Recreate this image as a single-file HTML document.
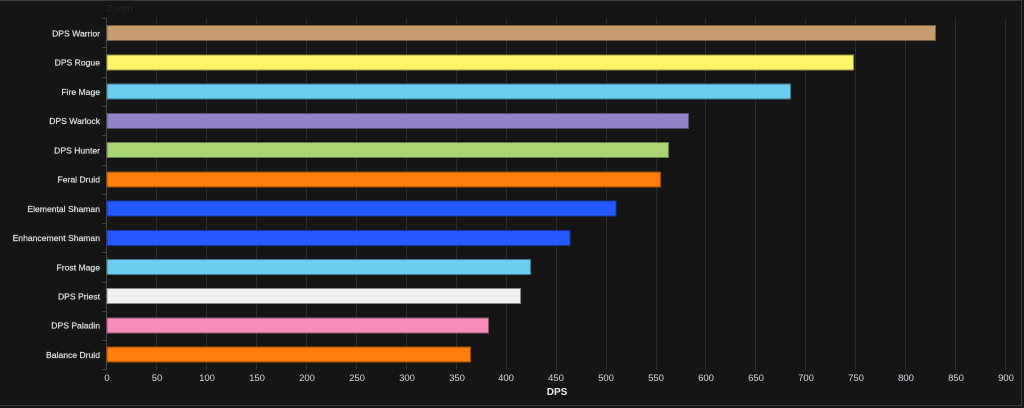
<!DOCTYPE html>
<html><head><meta charset="utf-8"><style>
html,body{margin:0;padding:0;background:#151515;}
svg{display:block;font-family:"Liberation Sans",sans-serif;}
</style></head><body>
<svg width="1024" height="408" viewBox="0 0 1024 408" xmlns="http://www.w3.org/2000/svg">
<rect width="1024" height="408" fill="#151515"/>
<line x1="0" y1="0.5" x2="1022" y2="0.5" stroke="#3a3a3a"/>
<line x1="1021.5" y1="0" x2="1021.5" y2="406" stroke="#3a3a3a"/>
<line x1="0" y1="405.5" x2="1022" y2="405.5" stroke="#3a3a3a"/>
<text x="107" y="12" font-size="10" fill="#252525">Zoom</text>
<g stroke="#2c2c2c" stroke-width="1">
<line x1="156.5" y1="18" x2="156.5" y2="370"/><line x1="206.5" y1="18" x2="206.5" y2="370"/>
<line x1="256.5" y1="18" x2="256.5" y2="370"/><line x1="306.5" y1="18" x2="306.5" y2="370"/>
<line x1="356.5" y1="18" x2="356.5" y2="370"/><line x1="406.5" y1="18" x2="406.5" y2="370"/>
<line x1="456.5" y1="18" x2="456.5" y2="370"/><line x1="506.5" y1="18" x2="506.5" y2="370"/>
<line x1="556.5" y1="18" x2="556.5" y2="370"/><line x1="606.5" y1="18" x2="606.5" y2="370"/>
<line x1="656.5" y1="18" x2="656.5" y2="370"/><line x1="705.5" y1="18" x2="705.5" y2="370"/>
<line x1="755.5" y1="18" x2="755.5" y2="370"/><line x1="805.5" y1="18" x2="805.5" y2="370"/>
<line x1="855.5" y1="18" x2="855.5" y2="370"/><line x1="905.5" y1="18" x2="905.5" y2="370"/>
<line x1="955.5" y1="18" x2="955.5" y2="370"/><line x1="1005.5" y1="18" x2="1005.5" y2="370"/>
</g>
<line x1="106.5" y1="18" x2="106.5" y2="370" stroke="#444"/>
<g stroke="#444">
<line x1="102" y1="18.5" x2="106" y2="18.5"/><line x1="102" y1="47.5" x2="106" y2="47.5"/><line x1="102" y1="77.5" x2="106" y2="77.5"/>
<line x1="102" y1="106.5" x2="106" y2="106.5"/><line x1="102" y1="135.5" x2="106" y2="135.5"/><line x1="102" y1="165.5" x2="106" y2="165.5"/>
<line x1="102" y1="194.5" x2="106" y2="194.5"/><line x1="102" y1="223.5" x2="106" y2="223.5"/><line x1="102" y1="252.5" x2="106" y2="252.5"/>
<line x1="102" y1="282.5" x2="106" y2="282.5"/><line x1="102" y1="311.5" x2="106" y2="311.5"/><line x1="102" y1="340.5" x2="106" y2="340.5"/>
<line x1="102" y1="369.5" x2="106" y2="369.5"/>
</g>
<g stroke-width="1">
<rect x="107" y="25.5" width="828.5" height="15" fill="#c69b6d" stroke="#7a5f42"/>
<rect x="107" y="55" width="746.5" height="15" fill="#fff569" stroke="#9a9440"/>
<rect x="107" y="84" width="683.5" height="15" fill="#69ccf0" stroke="#3f7b91"/>
<rect x="107" y="113.5" width="581.5" height="15" fill="#9482c9" stroke="#5a4f7a"/>
<rect x="107" y="142.5" width="561.5" height="15" fill="#abd473" stroke="#678046"/>
<rect x="107" y="172" width="553.5" height="15" fill="#ff7d0a" stroke="#9a4c06"/>
<rect x="107" y="201" width="509" height="15" fill="#2459ff" stroke="#16369a"/>
<rect x="107" y="230.5" width="463" height="15" fill="#2459ff" stroke="#16369a"/>
<rect x="107" y="259.5" width="423.5" height="15" fill="#69ccf0" stroke="#3f7b91"/>
<rect x="107" y="288.5" width="413.5" height="15" fill="#f0f0f0" stroke="#8a8a8a"/>
<rect x="107" y="318" width="381.5" height="15" fill="#f58cba" stroke="#945470"/>
<rect x="107" y="347" width="363.5" height="15" fill="#ff7d0a" stroke="#9a4c06"/>
</g>
<g font-size="8.6" fill="#e2e2e2" text-anchor="end" stroke="#e2e2e2" stroke-width="0.2">
<text x="100" y="36.5">DPS Warrior</text>
<text x="100" y="65.5">DPS Rogue</text>
<text x="100" y="95">Fire Mage</text>
<text x="100" y="124">DPS Warlock</text>
<text x="100" y="153.5">DPS Hunter</text>
<text x="100" y="182.5">Feral Druid</text>
<text x="100" y="212">Elemental Shaman</text>
<text x="100" y="241">Enhancement Shaman</text>
<text x="100" y="270.5">Frost Mage</text>
<text x="100" y="299.5">DPS Priest</text>
<text x="100" y="328.5">DPS Paladin</text>
<text x="100" y="358">Balance Druid</text>
</g>
<g font-size="9.5" fill="#d6dde6" text-anchor="middle">
<text x="107" y="381">0</text><text x="157" y="381">50</text><text x="207" y="381">100</text>
<text x="257" y="381">150</text><text x="307" y="381">200</text><text x="357" y="381">250</text>
<text x="407" y="381">300</text><text x="457" y="381">350</text><text x="506" y="381">400</text>
<text x="556" y="381">450</text><text x="606" y="381">500</text><text x="656" y="381">550</text>
<text x="706" y="381">600</text><text x="756" y="381">650</text><text x="806" y="381">700</text>
<text x="856" y="381">750</text><text x="906" y="381">800</text><text x="956" y="381">850</text>
<text x="1006" y="381">900</text>
</g>
<text x="557" y="395" font-size="10" font-weight="bold" fill="#e8eef5" text-anchor="middle">DPS</text>
</svg>
</body></html>
